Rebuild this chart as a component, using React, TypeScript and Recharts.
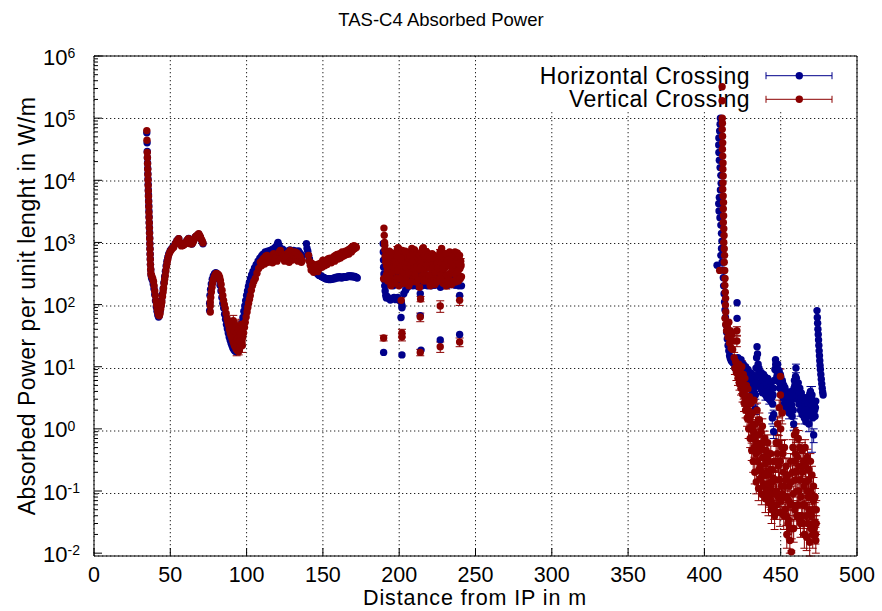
import React from "react";
import {
  ScatterChart,
  Scatter,
  XAxis,
  YAxis,
  CartesianGrid,
  ErrorBar,
  ReferenceArea,
} from "recharts";

// ---- axis ticks ----
const xTicks = [0, 50, 100, 150, 200, 250, 300, 350, 400, 450, 500];
const yTicks = [1e-2, 1e-1, 1, 1e1, 1e2, 1e3, 1e4, 1e5, 1e6];
const yMinor = yTicks.slice(0, -1).flatMap((d) => [2, 3, 4, 5, 6, 7, 8, 9].map((k) => d * k));
const yAllTicks = [...yTicks, ...yMinor].sort((a, b) => a - b);

const seriesNames = ["Horizontal Crossing", "Vertical Crossing"];

// ---- Horizontal crossing (blue): [distance m, W/m, error] ----
const hFront = [
  [34.6, 58000], [34.8, 40000], [34.9, 29000], [35.0, 23000], [35.1, 19000], [35.2, 15500], [35.3, 12800],
  [35.4, 10500], [35.5, 8600], [35.6, 7000], [35.7, 5800], [35.8, 4700], [35.9, 3900], [36.0, 3200],
  [36.1, 2600], [36.2, 2100], [36.3, 1750], [36.4, 1450], [36.5, 1180], [36.6, 960], [36.7, 800],
  [36.8, 650], [36.9, 540], [37.0, 440], [37.2, 360], [37.4, 300], [37.7, 270], [38.2, 250], [38.8, 215],
  [39.3, 180], [39.8, 145], [40.3, 115], [40.8, 92], [41.3, 78], [41.8, 68], [42.3, 63], [42.8, 66],
  [43.3, 78], [43.8, 95], [44.3, 118], [44.8, 145], [45.3, 180], [45.8, 225], [46.3, 280], [46.8, 345],
  [47.3, 420], [47.8, 500], [48.4, 580], [49.0, 650], [50.0, 740], [51.0, 800], [52.2, 860], [53.3, 960],
  [54.4, 1080], [55.5, 1150], [56.6, 980], [58.1, 900], [59.8, 960], [60.9, 1080], [62.0, 1160],
  [63.1, 980], [64.2, 940], [65.3, 1060], [66.4, 1220], [67.5, 1280], [68.6, 1360], [69.7, 1200],
  [70.8, 1040], [71.4, 950],
];
const hArc = [
  [75.8, 80], [75.8, 105], [76.0, 140], [76.4, 175], [76.9, 215], [77.5, 255], [78.2, 290], [79.0, 315],
  [79.8, 325], [80.6, 315], [81.4, 290], [82.0, 250], [82.6, 205], [83.2, 165], [83.8, 130], [84.4, 105],
  [85.0, 88], [85.6, 70], [86.2, 58], [86.8, 48], [87.4, 41], [88.0, 35], [88.6, 30], [89.2, 27],
  [89.8, 24], [90.4, 22], [91.0, 20], [91.6, 19], [92.2, 18], [92.8, 17.5], [93.4, 18.5], [94.0, 20],
  [94.6, 23], [95.2, 27], [95.8, 33], [96.4, 40], [97.0, 50], [97.6, 62], [98.2, 78], [98.8, 95],
  [99.4, 115], [100.0, 140], [100.6, 165], [101.2, 195], [101.8, 225], [102.5, 260], [103.3, 300],
  [104.2, 340], [105.2, 390], [106.3, 440], [107.5, 500], [108.7, 560],
];
const hPlateau = [
  [109.8, 600], [110.6, 640], [111.4, 600], [112.2, 700], [113.0, 680], [113.8, 720], [114.6, 650],
  [115.4, 740], [116.2, 700], [117.0, 780], [117.8, 720], [118.6, 820], [119.4, 860], [120.2, 940],
  [120.6, 1000], [121.2, 900], [122.0, 800], [122.8, 720], [123.6, 780], [124.4, 700], [125.2, 660],
  [126.0, 720], [126.8, 640], [127.6, 700], [128.4, 760], [129.2, 700], [130.0, 680], [130.8, 740],
  [131.6, 660], [132.4, 720], [133.2, 700], [134.0, 730], [134.8, 680], [135.6, 640], [136.4, 600],
  [139.2, 950], [139.6, 800], [140.1, 720], [140.6, 620], [141.2, 540], [141.7, 480], [142.3, 440],
  [142.8, 420], [143.4, 400], [143.9, 380], [144.5, 360], [145.0, 345], [145.6, 330], [146.1, 320],
  [146.7, 310], [147.2, 300], [147.8, 295], [148.3, 290], [148.9, 285], [149.4, 280], [150.0, 276],
  [150.5, 272], [151.1, 268], [151.6, 262], [152.2, 258], [152.7, 262], [153.3, 255], [153.8, 260],
  [154.4, 252], [155.0, 258], [155.5, 262], [156.1, 255], [156.6, 262], [157.2, 268], [157.7, 260],
  [158.3, 270], [158.8, 275], [159.4, 268], [159.9, 278], [160.5, 272], [161.0, 280], [161.6, 274],
  [162.1, 268], [162.7, 276], [163.2, 272], [163.8, 280], [164.3, 274], [164.9, 282], [165.4, 276],
  [166.0, 284], [166.5, 290], [167.1, 282], [167.6, 292], [168.2, 286], [168.7, 280], [169.3, 290],
  [169.8, 284], [170.4, 278], [170.9, 284], [171.5, 276], [172.0, 272], [172.5, 268],
];
const hCloud = [
  [189.5, 950], [189.6, 700], [189.7, 520], [189.8, 400], [190.0, 310], [190.2, 250], [190.5, 200],
  [190.8, 165], [191.2, 140], [191.6, 128], [192.1, 135], [192.6, 300], [193.1, 125], [193.6, 220],
  [194.2, 118], [194.8, 260], [195.4, 125], [196.0, 200], [196.6, 130], [197.2, 280], [197.8, 120],
  [198.4, 240], [199.0, 130], [199.6, 320], [200.2, 118], [200.8, 210], [201.4, 110], [201.9, 95],
  [202.4, 250], [203.0, 150], [203.6, 300], [204.2, 170], [204.8, 260], [205.4, 190], [206.0, 320],
  [206.6, 200], [207.2, 260], [207.8, 210], [208.4, 340], [209.0, 200], [209.6, 250], [210.2, 210],
  [210.8, 300], [211.4, 200], [212.0, 230], [212.6, 195], [213.2, 280], [213.8, 150], [214.4, 260],
  [215.0, 200], [215.6, 330], [216.2, 210], [216.8, 240], [217.4, 205], [218.0, 300], [218.6, 200],
  [219.2, 230], [219.8, 210], [220.4, 280], [221.0, 200], [221.6, 250], [222.2, 210], [222.8, 310],
  [223.4, 205], [224.0, 240], [224.6, 215], [225.2, 300], [225.8, 210], [226.4, 260], [227.0, 190],
  [227.6, 330], [228.2, 215], [228.8, 240], [229.4, 210], [230.0, 290], [230.6, 215], [231.2, 250],
  [231.8, 205], [232.4, 300], [233.0, 220], [233.6, 240], [234.2, 210], [234.8, 280], [235.4, 215],
  [236.0, 250], [236.6, 205], [237.2, 300], [237.8, 215], [238.4, 240], [239.0, 200], [239.6, 140],
  [240.2, 280], [240.8, 200],
];
const hStray = [
  [189.8, 17], [201.8, 89], [201.2, 62], [201.8, 15.5], [213.8, 66], [214.3, 18.5], [226.9, 27], [239.6, 33],
];
const hSpike = [
  [410.5, 100000], [410.3, 80000], [410.0, 62000], [409.5, 48000], [409.4, 37000], [409.5, 28000],
  [409.8, 21000], [410.3, 16000], [410.8, 12000], [411.0, 9000], [410.5, 7000], [409.8, 5300],
  [409.4, 4200], [409.6, 3200], [410.2, 2500], [410.8, 1900], [411.2, 1400], [411.5, 1050], [411.2, 800],
  [410.8, 620], [408.3, 430], [411.6, 480], [412.0, 360], [412.4, 270], [412.6, 200], [412.9, 150],
  [413.2, 110], [413.5, 82], [413.8, 62], [414.2, 47], [414.6, 36], [415.0, 28], [415.5, 22], [416.0, 18],
  [416.5, 15], [417.0, 13.5], [417.6, 12.5], [418.2, 12], [418.8, 11.5], [421.4, 107], [421.4, 60],
];
const hTail = [
  [419.5, 12], [420.0, 9.5], [420.5, 11], [421.0, 8.5], [421.5, 10.5], [422.0, 14], [422.5, 9], [423.0, 11],
  [423.5, 8], [424.0, 13], [424.5, 9.5], [425.0, 7.5], [425.5, 11], [426.0, 8], [426.5, 6.5], [427.0, 10],
  [427.5, 7], [428.0, 5.5], [428.5, 9], [429.0, 6], [429.5, 4.8], [430.0, 8], [430.5, 5.5], [431.0, 4.2],
  [431.5, 7.5], [432.0, 5], [432.5, 3.8], [433.0, 6.5], [433.4, 3.5, 0.5], [433.4, 2.1, 0.4], [433.8, 9.5],
  [434.2, 14], [434.5, 21], [434.8, 16], [435.2, 11], [435.6, 8, 1.2], [436.0, 5.5], [436.5, 7.5],
  [437.0, 4.5, 0.8], [437.5, 6.5], [438.0, 3.8], [438.5, 6], [439.0, 4.2], [439.5, 7], [440.0, 3.5, 0.6],
  [440.5, 5.5], [441.0, 3.2], [441.5, 6.5], [442.0, 4], [442.5, 3, 0.5], [443.0, 5.5], [443.5, 2.8],
  [444.0, 4.5], [444.5, 1.5, 0.3], [445.0, 3.5], [445.4, 1.7, 0.3], [445.4, 0.9, 0.2], [445.8, 6], [446.2, 9],
  [446.6, 13], [447.0, 10], [447.5, 7], [448.0, 11], [448.5, 6], [449.0, 8.5], [449.5, 4.5], [450.0, 7],
  [450.5, 3.8], [451.0, 6], [451.5, 3.2, 0.6], [452.0, 5], [452.5, 2.6], [453.0, 4.2], [453.5, 2.2, 0.4],
  [454.0, 3.6], [454.5, 2], [455.0, 3], [455.5, 1.8, 0.35], [456.0, 3.4], [456.5, 2.2], [457.0, 4],
  [457.5, 1.6], [458.0, 3], [458.5, 1.2, 0.25], [459.0, 6], [459.5, 4], [460.0, 9.5, 1.5], [460.5, 5],
  [461.0, 3], [461.5, 5.5], [462.0, 2.5], [462.5, 4.5], [463.0, 2, 0.4], [463.5, 3.8], [464.0, 1.7],
  [464.5, 3.2], [465.0, 2.2], [465.5, 1.5, 0.3], [466.0, 3], [466.5, 1.3], [467.0, 2.6], [467.5, 1.6],
  [468.0, 2.2], [468.5, 1.2, 0.3], [469.0, 3.6], [469.5, 4, 0.8], [470.0, 2.2], [470.5, 3.5, [3.08, 1.3]],
  [471.0, 1.5], [471.6, 0.8, 0.2], [472.0, 2.5], [472.5, 1.6], [473.0, 2.8],
];
const hTailFill = [
  [422.25, 12], [422.75, 10], [423.25, 9], [423.75, 11.5], [424.25, 8], [424.75, 10.5], [425.25, 9],
  [425.75, 6.5], [426.25, 9.5], [426.75, 7.5], [427.25, 8.5], [427.75, 6], [428.25, 7.5], [428.75, 5],
  [429.25, 7], [429.75, 5.5], [430.25, 6.5], [430.75, 4.5], [431.25, 6], [431.75, 4.8], [432.25, 6.5],
  [432.75, 4.5], [433.25, 5.5], [435.75, 9.5], [436.25, 7], [436.75, 5], [437.25, 8], [437.75, 5.5],
  [438.25, 4.8], [438.75, 7.5], [439.25, 5], [439.75, 4], [440.25, 6.5], [440.75, 4.2], [441.25, 5],
  [441.75, 3.6], [442.25, 5.5], [442.75, 4.2], [443.25, 3.4], [443.75, 4.8], [444.25, 3.2], [444.75, 2.5],
  [445.25, 4.5], [446.75, 11], [447.25, 8.5], [447.75, 6], [448.25, 9], [448.75, 7], [449.25, 5.5],
  [449.75, 7.5], [450.25, 5], [450.75, 4.5], [451.25, 5.5], [451.75, 4], [452.25, 3.5], [452.75, 4.6],
  [453.25, 3], [453.75, 3.8], [454.25, 2.6], [454.75, 3.4], [455.25, 2.4], [455.75, 3.2], [456.25, 2.6],
  [456.75, 3.8], [457.25, 2.4], [457.75, 3.4], [458.25, 2], [458.75, 4.5], [459.25, 5], [459.75, 7],
  [460.25, 6.5], [460.75, 3.8], [461.25, 4.2], [461.75, 3.4], [462.25, 3.8], [462.75, 3], [463.25, 2.8],
  [463.75, 2.5], [464.25, 2.6], [464.75, 2.2], [465.25, 3.2], [465.75, 2.4], [466.25, 2], [466.75, 2.8],
  [467.25, 1.8], [467.75, 2.6], [468.25, 1.7], [468.75, 2.8], [469.25, 3], [469.75, 2.6], [470.25, 3],
  [470.75, 2], [471.25, 2.4], [471.75, 1.6], [472.25, 2], [472.75, 2.2],
];
const hEdge = [
  [473.8, 80], [474.0, 62], [474.2, 50], [474.4, 40], [474.6, 33], [474.8, 27], [475.0, 22], [475.2, 18],
  [475.4, 15], [475.6, 12.5], [475.8, 10.5], [476.0, 9], [476.3, 7.5], [476.6, 6.3], [476.9, 5.3],
  [477.2, 4.5], [477.5, 3.9], [477.8, 3.5],
];

// ---- Vertical crossing (red) ----
const vFront = [
  [34.6, 63000], [34.7, 44000], [34.9, 28000], [35.0, 23000], [35.1, 18500], [35.2, 15000], [35.3, 12300],
  [35.4, 10000], [35.5, 8200], [35.6, 6700], [35.7, 5500], [35.8, 4500], [35.9, 3700], [36.0, 3000],
  [36.1, 2500], [36.2, 2050], [36.3, 1700], [36.4, 1400], [36.5, 1150], [36.6, 940], [36.7, 780],
  [36.8, 640], [36.9, 530], [37.0, 440], [37.15, 370], [37.3, 320], [37.6, 295], [38.0, 280], [38.5, 260],
  [39.0, 235], [39.4, 200], [39.8, 165], [40.2, 140], [40.6, 115], [41.0, 98], [41.4, 86], [41.8, 75],
  [42.3, 68], [42.8, 66], [43.3, 72], [43.7, 85], [44.1, 97], [44.5, 110], [44.9, 135], [45.3, 160],
  [45.6, 185], [46.0, 220], [46.3, 255], [46.7, 295], [47.1, 350], [47.5, 410], [47.9, 470], [48.4, 540],
  [48.9, 620], [49.6, 690], [50.4, 740], [51.3, 800], [52.2, 840], [53.3, 950], [54.4, 1070], [55.5, 1150],
  [56.0, 1020], [56.6, 950], [57.3, 880], [58.1, 890], [59.0, 920], [59.8, 950], [60.4, 1000],
  [60.9, 1070], [61.5, 1120], [62.0, 1150], [62.6, 1030], [63.1, 950], [63.7, 960], [64.2, 950],
  [64.8, 1000], [65.3, 1070], [65.9, 1150], [66.4, 1230], [67.0, 1260], [67.5, 1290], [68.1, 1330],
  [68.6, 1380], [69.2, 1300], [69.7, 1230], [70.3, 1130], [70.8, 1070], [71.4, 980],
];
const vArc = [
  [76.2, 76], [76.2, 95], [76.2, 110], [76.5, 130], [76.9, 160], [77.3, 190], [77.7, 220], [78.2, 250],
  [78.8, 277], [79.4, 300], [80.1, 316], [80.9, 310], [81.7, 300], [82.3, 275], [82.8, 245], [83.3, 210],
  [83.9, 170], [84.4, 140], [84.9, 117], [85.4, 100], [86.0, 87], [86.6, 72], [87.2, 60], [87.7, 53],
  [88.2, 47], [88.7, 40], [89.3, 35], [89.8, 32], [90.4, 29], [91.0, 26], [91.5, 24], [92.0, 22],
  [92.6, 21], [93.1, 19.5], [93.7, 18.5], [94.2, 18], [94.8, 17.5, 2], [95.3, 19], [95.9, 21], [96.4, 23],
  [97.0, 25], [97.5, 30], [98.0, 35], [98.6, 43], [99.1, 52], [99.7, 63], [100.3, 76], [100.8, 90],
  [101.3, 105], [101.9, 122], [102.4, 140], [103.1, 170], [103.9, 205], [104.7, 235], [105.7, 263],
  [106.8, 320], [107.9, 380],
];
const vValley = [
  [89.8, 50, 10], [90.6, 42, 9], [91.3, 55, 12], [92.0, 38, 8], [93.5, 34, 19], [93.0, 46, 10],
  [94.0, 28, 7], [94.6, 40, 9], [95.4, 26, 6], [96.0, 35, 8], [96.6, 48, 10], [97.2, 22, 5], [97.8, 44, 9],
];
const vPlateau = [
  [109.0, 480], [109.7, 420], [110.3, 520], [111.1, 550], [111.8, 450], [112.5, 600], [113.4, 620],
  [114.1, 480], [114.8, 560], [115.5, 510], [116.2, 600], [117.0, 470], [117.7, 660], [118.4, 540],
  [119.2, 580], [119.9, 500], [120.6, 620], [121.4, 700], [122.1, 740], [122.8, 560], [123.5, 650],
  [124.2, 620], [124.9, 500], [125.7, 580], [126.5, 550], [127.2, 680], [127.9, 480], [128.6, 740],
  [129.4, 600], [130.1, 520], [130.8, 620], [131.6, 700], [132.3, 560], [133.0, 680], [133.7, 500],
  [134.5, 620], [135.2, 580], [135.9, 480], [136.5, 510],
  [140.6, 620], [141.2, 500], [141.7, 430], [142.3, 360], [142.8, 460], [143.4, 380], [143.9, 330],
  [144.5, 420], [145.0, 350], [145.6, 440], [146.1, 400], [146.7, 340], [147.2, 450], [147.8, 380],
  [148.3, 410], [148.9, 470], [149.4, 400], [150.0, 520], [150.5, 460], [151.1, 420], [151.6, 500],
  [152.2, 460], [152.7, 440], [153.3, 540], [153.8, 480], [154.4, 560], [154.8, 520], [155.5, 470],
  [156.0, 560], [156.6, 510], [157.1, 590], [157.7, 500], [158.2, 620], [158.8, 560], [159.3, 640],
  [159.9, 540], [160.4, 600], [161.0, 660], [161.5, 560], [162.1, 640], [162.6, 700], [163.2, 600],
  [163.7, 680], [164.3, 620], [164.8, 720], [165.4, 640], [165.9, 680], [166.5, 760], [167.0, 650],
  [167.6, 780], [168.1, 800], [168.7, 700], [169.2, 850], [169.8, 760], [170.3, 890], [170.9, 800],
  [171.4, 860], [171.9, 830],
];
const vCloud = [
  [190.0, 1700], [190.2, 1300], [190.4, 1000], [190.6, 760], [190.8, 600], [189.8, 260], [191.2, 480],
  [191.7, 420], [192.2, 350, 40], [192.8, 520], [193.3, 640], [193.8, 300], [194.3, 560, 60], [194.8, 250],
  [195.3, 450], [195.8, 620], [196.3, 230, 25], [196.8, 500], [197.3, 380], [197.8, 650], [198.3, 270],
  [198.8, 780, 80], [199.3, 820], [199.8, 200], [200.3, 760], [200.8, 420, 45], [201.3, 700], [201.8, 310],
  [202.3, 600], [202.8, 240, 25], [203.3, 520], [203.8, 640], [204.3, 280], [204.8, 560, 60], [205.3, 350],
  [205.8, 610], [206.3, 200], [206.8, 480, 50], [207.3, 700], [207.8, 300], [208.3, 800], [208.8, 760, 80],
  [209.3, 260], [209.8, 690], [210.3, 420], [210.8, 580, 60], [211.3, 230], [211.8, 500], [212.3, 360],
  [212.8, 460, 50], [213.3, 190], [213.8, 540], [214.3, 620], [214.8, 290, 30], [215.3, 790], [215.8, 820],
  [216.3, 330], [216.8, 720, 75], [217.3, 470], [217.8, 650], [218.3, 240], [218.8, 560, 60], [219.3, 400],
  [219.8, 520], [220.3, 200], [220.8, 480, 50], [221.3, 600], [221.8, 290], [222.3, 450], [222.8, 540, 55],
  [223.3, 210], [223.8, 500], [224.3, 380], [224.8, 560, 60], [225.3, 260], [225.8, 600], [226.3, 420],
  [226.8, 700, 70], [227.3, 320], [227.8, 800], [228.3, 560], [228.8, 220, 25], [229.3, 640], [229.8, 380],
  [230.3, 520], [230.8, 200, 22], [231.3, 600], [231.8, 450], [232.3, 650, 65], [232.8, 300], [233.3, 560],
  [233.8, 420], [234.3, 210, 22], [234.8, 600], [235.3, 500], [235.8, 330, 35], [236.3, 560], [236.8, 230],
  [237.3, 620, 65], [237.8, 420], [238.3, 580], [238.8, 240, 25], [239.3, 540], [239.8, 380], [240.3, 500, 50],
  [240.8, 280],
];
const vCloudFill = [
  [190.55, 900], [191.05, 560], [191.55, 300], [192.05, 600], [192.55, 240], [193.05, 420], [193.55, 720],
  [194.05, 380], [194.55, 200], [195.05, 680], [195.55, 330], [196.05, 560], [196.55, 400], [197.05, 220],
  [197.55, 520], [198.05, 440], [198.55, 600], [199.05, 350], [199.55, 700], [200.05, 480], [200.55, 260],
  [201.05, 560], [201.55, 420], [202.05, 740], [202.55, 340], [203.05, 220], [203.55, 460], [204.05, 720],
  [204.55, 400], [205.05, 240], [205.55, 480], [206.05, 560], [206.55, 330], [207.05, 600], [207.55, 420],
  [208.05, 230], [208.55, 620], [209.05, 480], [209.55, 380], [210.05, 760], [210.55, 300], [211.05, 640],
  [211.55, 400], [212.05, 560], [212.55, 250], [213.05, 640], [213.55, 380], [214.05, 460], [214.55, 700],
  [215.05, 420], [215.55, 560], [216.05, 240], [216.55, 600], [217.05, 380], [217.55, 260], [218.05, 700],
  [218.55, 420], [219.05, 620], [219.55, 300], [220.05, 560], [220.55, 380], [221.05, 240], [221.55, 660],
  [222.05, 380], [222.55, 240], [223.05, 620], [223.55, 330], [224.05, 560], [224.55, 230], [225.05, 460],
  [225.55, 380], [226.05, 540], [226.55, 250], [227.05, 620], [227.55, 460], [228.05, 700], [228.55, 380],
  [229.05, 260], [229.55, 520], [230.05, 440], [230.55, 660], [231.05, 300], [231.55, 520], [232.05, 240],
  [232.55, 420], [233.05, 700], [233.55, 320], [234.05, 500], [234.55, 380], [235.05, 640], [235.55, 240],
  [236.05, 440], [236.55, 700], [237.05, 300], [237.55, 500], [238.05, 680], [238.55, 340], [239.05, 460],
  [239.55, 620], [240.05, 260], [240.55, 420],
];
const vStray = [
  [189.8, 29, 3], [201.8, 35, 5], [201.8, 30, 4], [201.3, 117, 12], [213.8, 63, 10], [214.0, 123, 12],
  [213.8, 17, 2], [226.9, 95, 20], [226.9, 21, 4], [239.6, 117, 20], [239.6, 25, 4],
];
const vSpike = [
  [411.6, 320000], [411.6, 190000], [411.7, 100000], [411.8, 83000], [411.7, 66000], [411.9, 51000],
  [412.0, 40000], [411.8, 31600], [412.0, 24500], [412.2, 19000], [412.1, 15100], [412.3, 11700],
  [412.2, 9100], [412.0, 7200], [412.3, 5600], [412.5, 4400], [412.4, 3470], [412.6, 2700], [412.4, 2100],
  [412.7, 1660], [412.9, 1290], [412.7, 1000], [413.0, 790], [413.2, 620], [413.0, 480], [410.0, 355],
  [413.3, 355], [413.5, 263], [413.4, 204], [413.7, 158], [413.9, 126], [413.8, 98], [414.0, 76],
  [413.5, 60], [414.0, 48], [414.5, 38], [415.0, 45], [415.5, 30], [416.0, 52], [416.5, 24], [417.0, 38],
  [417.5, 20], [418.0, 33], [418.5, 19], [419.0, 26],
];
const vTail = [
  [419.5, 14, 3], [420.0, 9.5, 2], [420.5, 12, 2.5], [421.0, 8, 2], [421.3, 38, 6], [421.3, 26, 5],
  [421.5, 10.5, 2.5], [422.0, 6.5, 1.5], [422.5, 11, 2.5], [423.0, 5.5, 1.3], [423.5, 9, 2], [424.0, 4.5, 1],
  [424.5, 10, 2.5], [425.0, 3.6, 0.9], [425.5, 7.5, 1.8], [426.0, 2.6, 0.7], [426.5, 6.5, 1.6], [427.0, 2.0, 0.5],
  [427.5, 5, 1.3], [428.0, 1.5, 0.4], [428.5, 4.4, 1.1], [429.0, 1.0, 0.3], [429.5, 3.3, 0.9], [430.0, 0.7, 0.2],
  [430.5, 2.6, 0.7], [431.0, 0.45, 0.14], [431.5, 1.8, 0.5], [432.0, 0.3, 0.1], [432.5, 2.9, 0.8],
  [433.0, 0.2, 0.07], [433.5, 1.2, 0.35], [434.0, 0.14, 0.05], [434.5, 2.0, 0.6], [435.0, 0.5, 0.15],
  [435.5, 0.11, 0.04], [436.0, 1.4, 0.4], [436.5, 0.25, 0.08], [437.0, 0.9, 0.3], [437.5, 0.09, 0.03],
  [438.0, 1.1, 0.35], [438.5, 0.35, 0.11], [439.0, 0.13, 0.05], [439.5, 0.7, 0.22], [440.0, 0.075, 0.03],
  [440.5, 0.45, 0.15], [441.0, 0.2, 0.07], [441.5, 0.6, 0.2], [442.0, 0.065, 0.025], [442.5, 0.3, 0.1],
  [443.0, 0.11, 0.04], [443.5, 0.4, 0.13], [444.0, 0.05, 0.02], [444.5, 0.22, 0.08], [445.0, 0.09, 0.035],
  [445.5, 0.3, 0.1], [446.0, 0.04, 0.016], [446.5, 0.15, 0.06], [447.0, 0.6, 0.2], [447.5, 0.06, 0.025],
  [448.0, 1.2, 0.4], [448.5, 0.25, 0.09], [449.0, 2.2, 0.7], [449.5, 0.045, 0.018], [449.8, 7.0, 2.2],
  [449.8, 3.5, 1.2], [450.0, 1.0, 0.35], [450.5, 0.12, 0.05], [451.0, 1.8, 0.6], [451.5, 0.4, 0.14],
  [452.0, 0.04, 0.016], [452.5, 0.5, 0.17], [453.0, 0.08, 0.03], [453.5, 0.25, 0.09], [454.0, 0.02, 0.008],
  [454.5, 0.18, 0.07], [455.0, 0.035, 0.014], [455.5, 0.12, 0.05], [456.0, 0.016, 0.006], [456.5, 0.3, 0.1],
  [457.0, 0.0105, 0.0004], [457.5, 0.06, 0.025], [458.0, 0.5, 0.17], [458.5, 0.025, 0.01], [459.0, 0.8, 0.25],
  [459.5, 0.15, 0.05], [460.0, 0.9, 0.3], [460.5, 0.04, 0.015], [461.0, 0.35, 0.12], [461.5, 0.7, 0.24],
  [462.0, 0.1, 0.04], [462.5, 0.5, 0.17], [463.0, 0.03, 0.012], [463.5, 0.25, 0.09], [464.0, 0.45, 0.15],
  [464.5, 0.06, 0.025], [465.0, 0.3, 0.1], [465.5, 0.02, 0.008], [466.0, 0.5, 0.17], [466.5, 0.14, 0.05],
  [467.0, 0.018, 0.007], [467.5, 0.35, 0.12], [468.0, 0.08, 0.03], [468.5, 0.22, 0.08], [469.0, 0.015, 0.006],
  [469.5, 0.3, 0.1], [470.0, 0.04, 0.015], [470.5, 0.18, 0.07], [471.0, 0.02, 0.008], [471.5, 0.12, 0.045],
  [472.0, 0.025, 0.01], [472.5, 0.08, 0.03], [473.0, 0.016, 0.006], [473.3, 0.05, 0.02],
];
const vTailFill = [
  [422.25, 8, 2], [422.75, 7.5, 2], [423.25, 7, 1.8], [423.75, 6.5, 1.7], [424.25, 6, 1.6], [424.75, 5, 1.3],
  [425.25, 5.5, 1.4], [425.75, 4, 1], [426.25, 4.2, 1.1], [426.75, 3.2, 0.9], [427.25, 3.4, 0.9],
  [427.75, 2.5, 0.7], [428.25, 2.8, 0.8], [428.75, 2.0, 0.6], [429.25, 1.8, 0.5], [429.75, 1.4, 0.4],
  [430.25, 1.6, 0.45], [430.75, 1.0, 0.3], [431.25, 1.1, 0.3], [431.75, 0.7, 0.2], [432.25, 0.9, 0.25],
  [432.75, 0.5, 0.15], [433.25, 0.75, 0.22], [433.75, 0.4, 0.12], [434.25, 0.6, 0.18], [434.75, 0.3, 0.09],
  [435.25, 0.8, 0.24], [435.75, 0.22, 0.07], [436.25, 0.45, 0.14], [436.75, 0.16, 0.05], [437.25, 0.5, 0.15],
  [437.75, 0.2, 0.06], [438.25, 0.6, 0.18], [438.75, 0.12, 0.04], [439.25, 0.35, 0.1], [439.75, 0.18, 0.05],
  [440.25, 0.28, 0.08], [440.75, 0.1, 0.03], [441.25, 0.35, 0.1], [441.75, 0.13, 0.04], [442.25, 0.18, 0.05],
  [442.75, 0.08, 0.025], [443.25, 0.22, 0.07], [443.75, 0.07, 0.02], [444.25, 0.14, 0.04], [444.75, 0.06, 0.02],
  [445.25, 0.16, 0.05], [445.75, 0.05, 0.015], [446.25, 0.09, 0.03], [446.75, 0.3, 0.09], [447.25, 0.1, 0.03],
  [447.75, 0.4, 0.12], [448.25, 0.08, 0.025], [448.75, 0.6, 0.18], [449.25, 0.15, 0.05], [449.75, 0.3, 0.09],
  [450.25, 0.07, 0.02], [450.75, 0.5, 0.15], [451.25, 0.09, 0.03], [451.75, 0.2, 0.06], [452.25, 0.12, 0.04],
  [452.75, 0.05, 0.015], [453.25, 0.15, 0.05], [453.75, 0.04, 0.012], [454.25, 0.08, 0.025], [454.75, 0.03, 0.01],
  [455.25, 0.07, 0.02], [455.75, 0.025, 0.008], [456.25, 0.06, 0.02], [456.75, 0.14, 0.04], [457.25, 0.025, 0.008],
  [457.75, 0.2, 0.06], [458.25, 0.09, 0.03], [458.75, 0.3, 0.09], [459.25, 0.05, 0.015], [459.75, 0.4, 0.12],
  [460.25, 0.2, 0.06], [460.75, 0.1, 0.03], [461.25, 0.06, 0.02], [461.75, 0.25, 0.08], [462.25, 0.035, 0.01],
  [462.75, 0.15, 0.05], [463.25, 0.08, 0.025], [463.75, 0.04, 0.012], [464.25, 0.2, 0.06], [464.75, 0.03, 0.01],
  [465.25, 0.12, 0.04], [465.75, 0.06, 0.02], [466.25, 0.25, 0.08], [466.75, 0.04, 0.012], [467.25, 0.1, 0.03],
  [467.75, 0.03, 0.01], [468.25, 0.15, 0.05], [468.75, 0.05, 0.015], [469.25, 0.1, 0.03], [469.75, 0.025, 0.008],
  [470.25, 0.09, 0.03], [470.75, 0.05, 0.015], [471.25, 0.07, 0.02], [471.75, 0.03, 0.01], [472.25, 0.05, 0.015],
  [472.75, 0.02, 0.006], [473.25, 0.03, 0.01],
];

const toPoints = (...parts: any[][]) =>
  parts.flat().map(([x, y, e]) => ({ x, y, e: e ?? 0 }));

const hPoints = toPoints(hFront, hArc, hPlateau, hCloud, hStray, hSpike, hTail, hTailFill, hEdge);
const vPoints = toPoints(vFront, vArc, vValley, vPlateau, vCloud, vCloudFill, vStray, vSpike, vTail, vTailFill);

const BLUE = "#00008b";
const RED = "#8b0000";
const FONT = '"Liberation Sans", Arial, Helvetica, sans-serif';
const W = 882;
const H = 611;
const X_DOMAIN = [0, 500];
const Y_DOMAIN = [1e-2, 1e6];
// plot box edges in px (follow from margins + axis sizes below)
const P = { left: 94, right: 857, top: 56, bottom: 556 };

const dot = (color: string) => (p: any) =>
  p.cx == null ? <g /> : <circle cx={p.cx} cy={p.cy} r={3.7} fill={color} />;

const isDecade = (v: number) => yTicks.includes(v);

const LeftTick = (props: any) => {
  const v = props.payload.value;
  const y = props.payload.coordinate;
  const major = isDecade(v);
  return (
    <g>
      <line x1={P.left} x2={P.left + (major ? 8 : 4)} y1={y} y2={y} stroke="#000" />
      {major && (
        <text x={43} y={y + 8.5} fontSize={22} fontFamily={FONT} fill="#000">
          10
          <tspan dy={-6.5} fontSize={14}>{Math.round(Math.log10(v))}</tspan>
        </text>
      )}
    </g>
  );
};

const RightTick = (props: any) => {
  const v = props.payload.value;
  const y = props.payload.coordinate;
  return <line x1={P.right} x2={P.right - (isDecade(v) ? 8 : 4)} y1={y} y2={y} stroke="#000" />;
};

const BottomTick = (props: any) => {
  const x = props.payload.coordinate;
  return (
    <g>
      <line x1={x} x2={x} y1={P.bottom} y2={P.bottom - 8} stroke="#000" />
      <text x={x} y={582} fontSize={21.5} fontFamily={FONT} fill="#000" textAnchor="middle">
        {props.payload.value}
      </text>
    </g>
  );
};

const TopTick = (props: any) => {
  const x = props.payload.coordinate;
  return <line x1={x} x2={x} y1={P.top} y2={P.top + 8} stroke="#000" />;
};

const legendColors = [BLUE, RED];

const LegendBox = (props: any) => (
  <g>
    <rect x={props.x} y={props.y + 1} width={props.width - 1} height={props.height} fill="#fff" />
    {seriesNames.map((name, i) => {
      const cy = 75.7 + i * 23.6;
      const c = legendColors[i];
      return (
        <g key={name}>
          <text x={750} y={cy + 8} textAnchor="end" fontSize={23} letterSpacing={0.5} fontFamily={FONT} fill="#000">
            {name}
          </text>
          <line x1={766} x2={832} y1={cy} y2={cy} stroke={c} strokeWidth={1} />
          <line x1={766} x2={766} y1={cy - 3.5} y2={cy + 3.5} stroke={c} strokeWidth={1} />
          <line x1={832} x2={832} y1={cy - 3.5} y2={cy + 3.5} stroke={c} strokeWidth={1} />
          <circle cx={799.3} cy={cy} r={3.7} fill={c} />
        </g>
      );
    })}
  </g>
);

// gridlines only at the labelled decades / x ticks (same linear / log mapping as the axes)
const gridRows = ({ offset }: any) => {
  const lo = Math.log10(Y_DOMAIN[0]);
  const hi = Math.log10(Y_DOMAIN[1]);
  return yTicks.map((v) => offset.top + (offset.height * (hi - Math.log10(v))) / (hi - lo));
};
const gridCols = ({ offset }: any) =>
  xTicks.map((v) => offset.left + (offset.width * (v - X_DOMAIN[0])) / (X_DOMAIN[1] - X_DOMAIN[0]));

export default function App() {
  return (
    <div style={{ position: "absolute", left: 0, top: 0, width: W, height: H, background: "#fff" }}>
      <ScatterChart width={W} height={H} margin={{ top: 55, right: 0, bottom: 0, left: 0 }}>
        <CartesianGrid
          stroke="#222"
          strokeDasharray="1.3 2.7"
          horizontalCoordinatesGenerator={gridRows}
          verticalCoordinatesGenerator={gridCols}
        />
        <XAxis
          dataKey="x"
          type="number"
          domain={X_DOMAIN}
          ticks={xTicks}
          interval={0}
          height={55}
          tickLine={false}
          tick={<BottomTick />}
          axisLine={{ stroke: "#000" }}
        />
        <XAxis
          xAxisId="top"
          orientation="top"
          type="number"
          domain={X_DOMAIN}
          ticks={xTicks}
          interval={0}
          height={1}
          tickLine={false}
          tick={<TopTick />}
          axisLine={{ stroke: "#000" }}
        />
        <YAxis
          dataKey="y"
          type="number"
          scale="log"
          domain={Y_DOMAIN}
          ticks={yAllTicks}
          interval={0}
          width={94}
          tickLine={false}
          tick={<LeftTick />}
          axisLine={{ stroke: "#000" }}
        />
        <YAxis
          yAxisId="right"
          orientation="right"
          type="number"
          scale="log"
          domain={Y_DOMAIN}
          ticks={yAllTicks}
          interval={0}
          width={25}
          tickLine={false}
          tick={<RightTick />}
          axisLine={{ stroke: "#000" }}
        />
        <ReferenceArea x1={290} x2={500} y1={1.3e5} y2={1e6} shape={<LegendBox />} />
        <Scatter name={seriesNames[0]} data={hPoints} fill={BLUE} shape={dot(BLUE)} isAnimationActive={false}>
          <ErrorBar dataKey="e" direction="y" width={4} stroke={BLUE} strokeWidth={1} />
        </Scatter>
        <Scatter name={seriesNames[1]} data={vPoints} fill={RED} shape={dot(RED)} isAnimationActive={false}>
          <ErrorBar dataKey="e" direction="y" width={4} stroke={RED} strokeWidth={1} />
        </Scatter>
      </ScatterChart>
      <svg width={W} height={H} style={{ position: "absolute", left: 0, top: 0, pointerEvents: "none" }}>
        <text x={441} y={26} textAnchor="middle" fontSize={18.5} fontFamily={FONT} fill="#000">
          TAS-C4 Absorbed Power
        </text>
        <text x={475} y={605} textAnchor="middle" fontSize={21.5} letterSpacing={0.9} fontFamily={FONT} fill="#000">
          Distance from IP in m
        </text>
        <text
          transform="translate(35,306) rotate(-90)"
          textAnchor="middle"
          fontSize={23}
          letterSpacing={0.5}
          fontFamily={FONT}
          fill="#000"
        >
          Absorbed Power per unit lenght in W/m
        </text>
      </svg>
    </div>
  );
}
